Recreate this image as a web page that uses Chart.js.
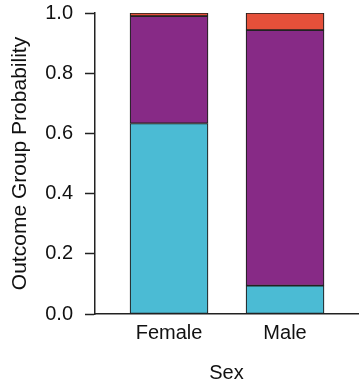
<!DOCTYPE html>
<html>
<head>
<meta charset="utf-8">
<script src="https://cdn.jsdelivr.net/npm/chart.js@4.4.1/dist/chart.umd.min.js"></script>
<style>
    html, body { margin: 0; padding: 0; background: #ffffff; }
    #wrap { width: 360px; height: 391px; }
</style>
</head>
<body>
<div id="wrap"><canvas id="outcomeChart" width="360" height="391"></canvas></div>
<script>
// Outcome group probabilities by sex (stacked to 1.0)
const sexLabels = ['Female', 'Male'];
const sexPositions = [1, 2];
const groupLow = [0.633, 0.094];
const groupMid = [0.357, 0.849];
const groupHigh = [0.010, 0.057];
const yTicks = [0, 0.2, 0.4, 0.6, 0.8, 1.0];

const groupColors = ['#4bbbd4', '#872a86', '#e5503a'];

function toPoints(values) {
    return values.map((v, i) => ({ x: sexPositions[i], y: v }));
}

const baseFont = { family: 'Liberation Sans, Arial, Helvetica, sans-serif', size: 20 };
const yTitleFont = { family: 'Liberation Sans, Arial, Helvetica, sans-serif', size: 21 };

const ctx = document.getElementById('outcomeChart').getContext('2d');
const outcomeChart = new Chart(ctx, {
    type: 'bar',
    data: {
        datasets: [groupLow, groupMid, groupHigh].map((vals, i) => ({
            label: 'Group ' + (i + 1),
            data: toPoints(vals),
            backgroundColor: groupColors[i],
            borderColor: '#222222',
            borderWidth: 1.2,
            borderSkipped: false,
            barThickness: 78
        }))
    },
    options: {
        responsive: false,
        animation: false,
        layout: { padding: { top: 13, right: 2, left: 0, bottom: 0 } },
        plugins: {
            legend: { display: false },
            tooltip: { enabled: false }
        },
        scales: {
            x: {
                type: 'linear',
                stacked: true,
                offset: false,
                bounds: 'data',
                min: 0.362,
                max: 2.629,
                afterFit: function(scale) {
                    scale.height = 77;
                    scale.paddingLeft = 0;
                    scale.paddingRight = 0;
                },
                afterBuildTicks: function(scale) {
                    scale.ticks = sexPositions.map(v => ({ value: v }));
                },
                ticks: {
                    color: '#111111',
                    font: baseFont,
                    padding: 7,
                    maxRotation: 0,
                    callback: function(value) {
                        const idx = sexPositions.indexOf(value);
                        return idx >= 0 ? sexLabels[idx] : '';
                    }
                },
                grid: { display: false, drawTicks: false },
                border: { display: true, color: '#222222', width: 1.5 },
                title: {
                    display: true,
                    text: 'Sex',
                    color: '#111111',
                    font: baseFont,
                    padding: { top: 0, bottom: 6 }
                }
            },
            y: {
                stacked: true,
                min: 0,
                max: 1,
                afterFit: function(scale) {
                    scale.width = 95;
                    scale.paddingTop = 0;
                    scale.paddingBottom = 0;
                },
                afterBuildTicks: function(scale) {
                    scale.ticks = yTicks.map(v => ({ value: v }));
                },
                ticks: {
                    color: '#111111',
                    font: baseFont,
                    padding: 12,
                    callback: function(value) { return value.toFixed(1); }
                },
                grid: {
                    display: true,
                    drawOnChartArea: false,
                    drawTicks: true,
                    tickLength: 10,
                    tickWidth: 1.5,
                    tickColor: '#222222'
                },
                border: { display: true, color: '#222222', width: 1.5 },
                title: {
                    display: true,
                    text: 'Outcome Group Probability',
                    color: '#111111',
                    font: yTitleFont,
                    padding: { top: 8, bottom: 0 }
                }
            }
        }
    }
});
</script>
</body>
</html>
